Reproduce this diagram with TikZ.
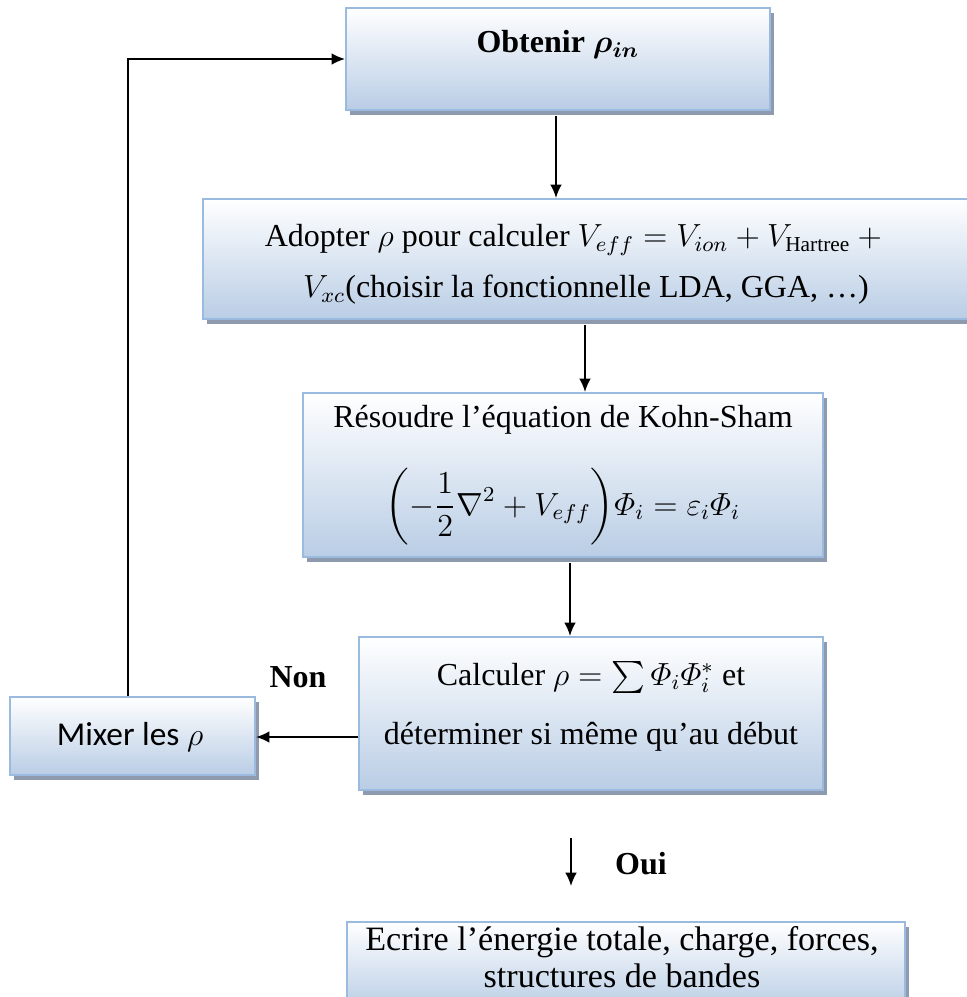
\documentclass[tikz,border=0pt]{standalone}
\usepackage{amsmath,bm}
\usepackage{fontspec}
\setmainfont{Liberation Serif}
\newfontfamily\calib{Carlito}
\usetikzlibrary{arrows.meta,shadows,fit}
\definecolor{bordc}{HTML}{9BBAE0}
\definecolor{botc}{HTML}{B9CDE5}
\definecolor{shadc}{HTML}{8E9AAE}
\begin{document}
\begin{tikzpicture}[x=0.375pt,y=-0.375pt,
  box/.style={draw=bordc, line width=0.8pt, top color=white, bottom color=botc, inner sep=0pt,
    drop shadow={shadow xshift=1.6pt, shadow yshift=-2pt, fill=shadc, opacity=1}},
  arr/.style={-{Latex[length=5pt,width=4.4pt]}, line width=0.7pt},
  txt/.style={font=\fontsize{12}{14}\selectfont, inner sep=0pt},
  lbl/.style={font=\fontsize{12}{14}\selectfont\bfseries, inner sep=0pt}]
\useasboundingbox (0,0) rectangle (966,997);
% boxes
\node[box, fit={(346,8) (770,110)}] (b1) {};
\node[box, fit={(203,199) (985,319)}] (b2) {};
\node[box, fit={(303,393) (823,557)}] (b3) {};
\node[box, fit={(359,637) (823,790)}] (b4) {};
\node[box, fit={(10,697) (255,775)}] (mix) {};
\node[box, fit={(347,922) (905,1010)}] (b5) {};
% texts
\node[txt] (t1) at (558,45) {\bfseries Obtenir $\bm{\rho_{in}}$};
\node[txt] (t2a) at (577,240) {Adopter $\rho$ pour calculer $V_{eff} = V_{ion} + V_{\mathrm{Hartree}} + {}$};
\node[txt] (t2b) at (586,290) {$V_{xc}$(choisir la fonctionnelle LDA, GGA, …)};
\node[txt] (t3a) at (563,420) {Résoudre l’équation de Kohn-Sham};
\node[txt] (t3b) at (563,507) {$\displaystyle\biggl(-\frac{1}{2}\nabla^2 + V_{eff}\biggr)\varPhi_i = \varepsilon_i\varPhi_i$};
\node[txt] (t4a) at (591,677) {Calculer $\rho = \sum \varPhi_i\varPhi_i^*$ et};
\node[txt] (t4b) at (591,737) {déterminer si même qu’au début};
\node[txt, font=\fontsize{12.5}{14}\selectfont\calib] (tm) at (130,737) {Mixer les $\rho$};
\node[txt, font=\fontsize{12.8}{15}\selectfont] (t5a) at (622,942) {Ecrire l’énergie totale, charge, forces,};
\node[txt, font=\fontsize{12.8}{15}\selectfont] (t5b) at (622,976) {structures de bandes};
\node[lbl] (non) at (298,677) {Non};
\node[lbl] (oui) at (641,864) {Oui};
% connectors
\coordinate (x1) at (556,0);
\coordinate (x2) at (585,0);
\coordinate (x3) at (570,0);
\coordinate (ynon) at (0,737);
\coordinate (o1) at (571,838);
\coordinate (o2) at (571,886);
\draw[arr] ([yshift=-2pt]b1.south -| x1) -- (b2.north -| x1);
\draw[arr] ([yshift=-2pt]b2.south -| x2) -- (b3.north -| x2);
\draw[arr] ([yshift=-2pt]b3.south -| x3) -- (b4.north -| x3);
\draw[arr] (b4.west |- ynon) -- (mix.east |- ynon);
\draw[arr] (mix.north -| 128,0) |- (b1.west);
\draw[arr] (o1) -- (o2);
\end{tikzpicture}
\end{document}
